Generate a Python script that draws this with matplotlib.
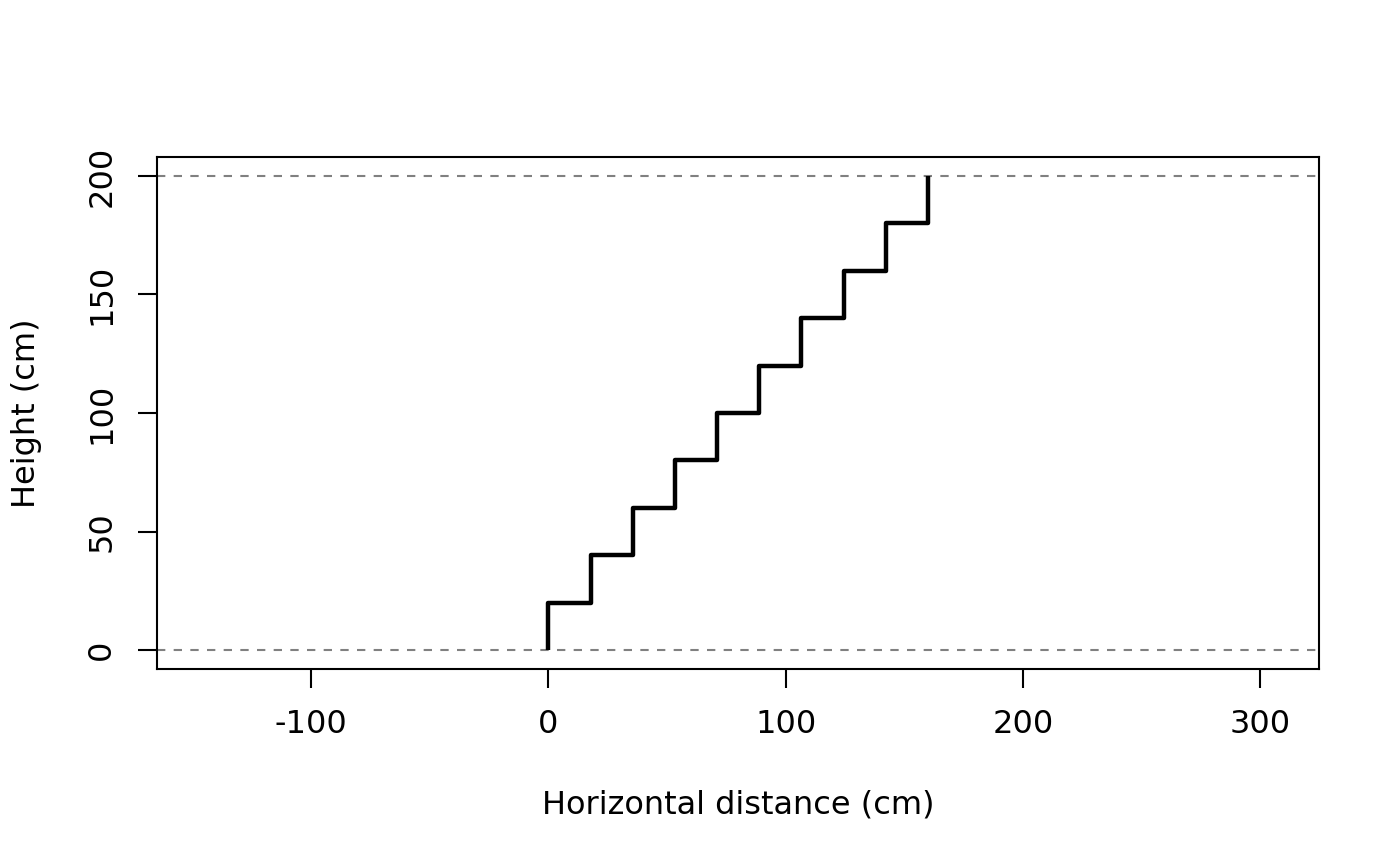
import numpy as np
import matplotlib
matplotlib.use("Agg")
import matplotlib.pyplot as plt

# ------------------------------------------------------------
# Data: a staircase of 10 risers, 20 cm each, going 160 cm across
# ------------------------------------------------------------
step_x = [0, 160/9, 2*160/9, 3*160/9, 4*160/9, 5*160/9, 6*160/9, 7*160/9, 8*160/9, 160]
step_y = [20, 40, 60, 80, 100, 120, 140, 160, 180, 200]
floor_levels = [0, 200]

x_ticks = [-100, 0, 100, 200, 300]
y_ticks = [0, 50, 100, 150, 200]

# Build the step outline: up, across, up, across ...
xs = [step_x[0]]
ys = [0]
for i in range(len(step_x)):
    xs.append(step_x[i])
    ys.append(step_y[i])
    if i + 1 < len(step_x):
        xs.append(step_x[i + 1])
        ys.append(step_y[i])

plt.rcParams['font.family'] = ['DejaVu Sans']

fig = plt.figure(figsize=(14, 8.66), dpi=100)
ax = fig.add_axes([0.1121, 0.2275, 0.8300, 0.5912])

for lvl in floor_levels:
    ax.axhline(lvl, color="#808080", linestyle=(0, (4, 4)), linewidth=1.5)

ax.plot(xs, ys, color="black", linewidth=3.2, solid_capstyle="butt")

ax.set_xlim(-165.0, 324.8)
ax.set_ylim(-8, 208)
ax.set_xticks(x_ticks)
ax.set_xticklabels([str(t) for t in x_ticks])
ax.set_yticks(y_ticks)
ax.set_yticklabels([str(t) for t in y_ticks], rotation=90, va="center")

for s in ax.spines.values():
    s.set_linewidth(1.5)
ax.tick_params(direction="out", length=13.5, width=1.5, labelsize=23, pad=15)

ax.set_xlabel("Horizontal distance (cm)", fontsize=23, labelpad=36)
ax.set_ylabel("Height (cm)", fontsize=23, labelpad=32)

fig.savefig("out.png", dpi=100)
